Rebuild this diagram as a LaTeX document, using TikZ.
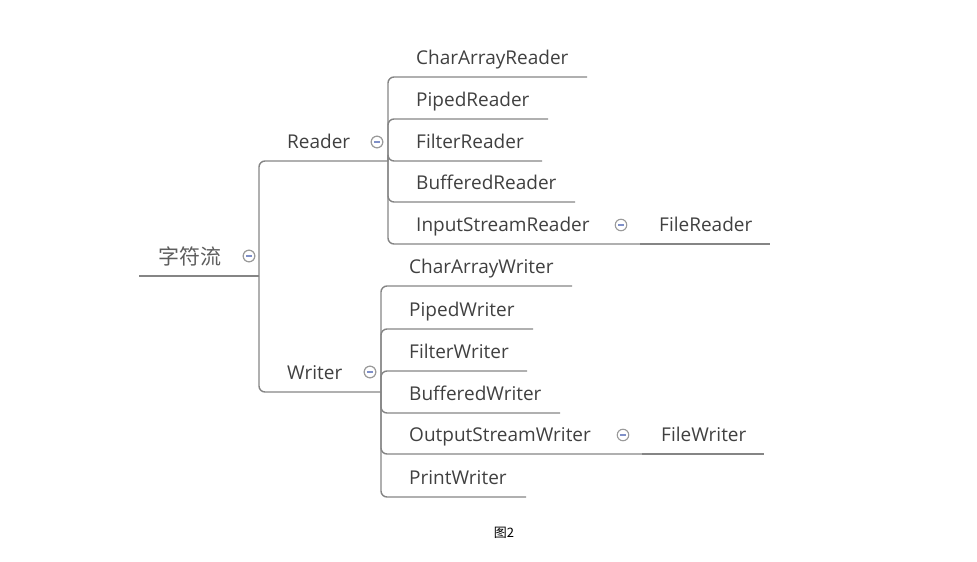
\documentclass[tikz,border=0pt]{standalone}
\usepackage{fontspec}
\setmainfont{Open Sans}
\newfontfamily\cjk{Noto Sans CJK SC}
\definecolor{linecol}{HTML}{858585}
\definecolor{txtcol}{HTML}{404040}
\definecolor{circcol}{HTML}{9A9A9A}
\definecolor{minuscol}{HTML}{8090C8}
\tikzset{
  conn/.style={draw=linecol, line width=1.4pt, rounded corners=6pt},
  topic/.style={anchor=base west, inner sep=0pt, text=txtcol, font=\fontsize{19}{21}\selectfont},
  fold/.style={circle, draw=circcol, line width=1.1pt, fill=white, minimum size=11.5pt, inner sep=0pt,
    path picture={\draw[minuscol, line width=1.3pt] ([xshift=-3pt]path picture bounding box.center) -- ([xshift=3pt]path picture bounding box.center);}},
}
\begin{document}
\begin{tikzpicture}[x=1pt, y=-1pt]
\useasboundingbox (0,0) rectangle (977,562);
% root
\node[anchor=west, inner sep=0pt, text=txtcol!85, font=\cjk\fontsize{21}{22}\selectfont] (root) at (158,256) {字符流};
\node[fold] (rootf) at (249,256) {};
\coordinate (root-s) at (139,276);
\coordinate (root-e) at (259,276);
% level 1
\node[topic] (rd) at (287,148) {Reader};
\node[fold] (rdf) at (377,142) {};
\coordinate (rd-e) at (388,161);
\node[topic] (wr) at (287,379) {Writer};
\node[fold] (wrf) at (370,372) {};
\coordinate (wr-e) at (381,392);
% reader children
\node[topic] (car) at (416,64) {CharArrayReader};
\coordinate (car-e) at (587,77);
\node[topic] (pr) at (416,106) {PipedReader};
\coordinate (pr-e) at (548,119);
\node[topic] (fr) at (416,148) {FilterReader};
\coordinate (fr-e) at (542,161);
\node[topic] (br) at (416,189) {BufferedReader};
\coordinate (br-e) at (575,202);
\node[topic] (isr) at (416,231) {InputStreamReader};
\node[fold] (isrf) at (621,225) {};
\coordinate (isr-e) at (640,244);
\node[topic] (filr) at (659,231) {FileReader};
\coordinate (filr-e) at (770,244);
% writer children
\node[topic] (caw) at (409,273) {CharArrayWriter};
\coordinate (caw-e) at (572,286);
\node[topic] (pw) at (409,316) {PipedWriter};
\coordinate (pw-e) at (533,329);
\node[topic] (fw) at (409,358) {FilterWriter};
\coordinate (fw-e) at (527,371);
\node[topic] (bw) at (409,400) {BufferedWriter};
\coordinate (bw-e) at (560,413);
\node[topic] (osw) at (409,441) {OutputStreamWriter};
\node[fold] (oswf) at (623,435) {};
\coordinate (osw-e) at (642,454);
\node[topic] (filw) at (661,441) {FileWriter};
\coordinate (filw-e) at (764,454);
\node[topic] (prw) at (409,484) {PrintWriter};
\coordinate (prw-e) at (526,497);
% connectors
\draw[conn] (root-s) -- (root-e);
\draw[conn] (root-e) |- (rd-e);
\draw[conn] (root-e) |- (wr-e);
\draw[conn] (rd-e) |- (car-e);
\draw[conn] (rd-e) |- (pr-e);
\draw[conn] (rd-e) |- (fr-e);
\draw[conn] (rd-e) |- (br-e);
\draw[conn] (rd-e) |- (isr-e);
\draw[conn] (isr-e) -- (filr-e);
\draw[conn] (wr-e) |- (caw-e);
\draw[conn] (wr-e) |- (pw-e);
\draw[conn] (wr-e) |- (fw-e);
\draw[conn] (wr-e) |- (bw-e);
\draw[conn] (wr-e) |- (osw-e);
\draw[conn] (osw-e) -- (filw-e);
\draw[conn] (wr-e) |- (prw-e);
% fold markers on top
\node[fold] at (rootf) {};
\node[fold] at (rdf) {};
\node[fold] at (wrf) {};
% caption
\node[anchor=center, inner sep=0pt, font=\cjk\fontsize{13}{14}\selectfont] (cap) at (504,533) {图2};
\end{tikzpicture}
\end{document}
